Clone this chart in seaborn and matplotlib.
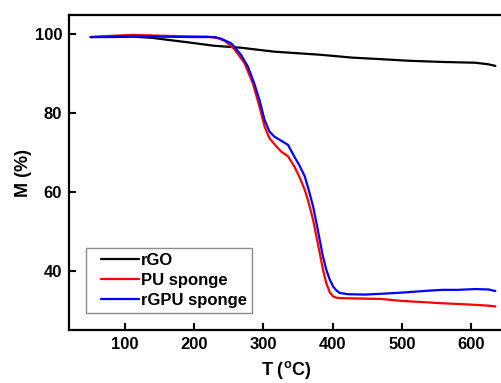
import numpy as np
import matplotlib
matplotlib.use("Agg")
import matplotlib.pyplot as plt
from matplotlib.lines import Line2D
from matplotlib.legend_handler import HandlerLine2D
import seaborn as sns

# TGA curves
rgo_T = [51, 80, 113, 140, 162, 190, 229, 268, 287, 316, 350, 384, 428, 470, 510, 558, 606, 625, 635]
rgo_M = [99.2, 99.2, 99.3, 99.0, 98.5, 97.9, 97.0, 96.5, 96.1, 95.5, 95.1, 94.7, 94.0, 93.6, 93.2, 92.9, 92.7, 92.3, 91.9]

pu_T = [51, 80, 113, 140, 180, 220, 235, 245, 258, 273, 285, 294.6, 302, 309, 319, 326, 335.8, 345, 352,
        360, 366, 372, 377, 381.6, 386, 391, 396, 401, 406, 413, 440, 470, 500, 530, 558, 585, 606, 625, 635]
pu_M = [99.2, 99.5, 99.75, 99.6, 99.4, 99.3, 98.9, 98.2, 96.2, 92.6, 87.5, 81.6, 76.5, 73.6, 71.5, 70.2, 69.0, 66.4, 63.9,
        60.5, 57.0, 52.9, 48.5, 44.5, 40.5, 36.9, 34.6, 33.5, 33.2, 33.1, 33.0, 32.9, 32.4, 32.1, 31.8, 31.6, 31.4, 31.2, 31.0]

rgpu_T = [51, 80, 113, 150, 200, 230, 239, 254, 268, 278, 287, 294.6, 302, 309, 316, 323.6, 335.8, 345, 352,
          360, 366, 372, 377, 381.6, 386, 391, 396, 401, 406, 410.6, 422.7, 446, 470, 500, 539, 558, 580, 606, 625, 635]
rgpu_M = [99.2, 99.3, 99.5, 99.3, 99.2, 99.2, 98.8, 97.6, 94.7, 91.7, 87.5, 83.3, 78.2, 75.3, 74.0, 73.2, 71.9, 68.9, 66.8,
          63.9, 60.3, 56.3, 52.0, 47.8, 43.8, 40.3, 37.8, 36.0, 35.0, 34.4, 34.1, 34.0, 34.2, 34.5, 35.0, 35.2, 35.2, 35.4, 35.3, 34.9]

series = [("rGO", rgo_T, rgo_M, "black"),
          ("PU sponge", pu_T, pu_M, "#ff0000"),
          ("rGPU sponge", rgpu_T, rgpu_M, "#0000ff")]

x_ticks = [100, 200, 300, 400, 500, 600]
y_ticks = [40, 60, 80, 100]

sns.set_theme(style="ticks")
plt.rcParams['font.family'] = ['Liberation Sans', 'DejaVu Sans']
plt.rcParams['font.weight'] = 'bold'
plt.rcParams['mathtext.fontset'] = 'custom'
plt.rcParams['mathtext.rm'] = 'Liberation Sans:bold'
plt.rcParams['mathtext.bf'] = 'Liberation Sans:bold'
for key in ['text.color', 'axes.labelcolor', 'xtick.color', 'ytick.color', 'axes.edgecolor']:
    plt.rcParams[key] = 'black'

fig = plt.figure(figsize=(5.01, 3.83), dpi=100)
ax = fig.add_axes([0.138, 0.138, 0.866, 0.823])

for name, T, M, col in series:
    sns.lineplot(x=T, y=M, ax=ax, color=col, linewidth=1.6, label=name, sort=False)

ax.set_xlim(20, 646)
ax.set_ylim(25, 104.8)
ax.set_xticks(x_ticks)
ax.set_yticks(y_ticks)
ax.tick_params(direction="in", length=5, width=1.5, labelsize=12, pad=5,
               top=False, right=False)
for lab in ax.get_xticklabels() + ax.get_yticklabels():
    lab.set_fontweight("bold")
for s in ax.spines.values():
    s.set_linewidth(1.6)

ax.set_xlabel(r"T ($\mathregular{^o}$C)", fontsize=13, fontweight="bold", labelpad=5)
ax.set_ylabel("M (%)", fontsize=13, fontweight="bold", labelpad=2)

# shift the legend lines right a bit, like the original box
leg = ax.legend(loc="lower left", bbox_to_anchor=(0.039, 0.054), borderaxespad=0,
                fancybox=False, frameon=True, fontsize=12, handlelength=2.9,
                handletextpad=0.1, labelspacing=0.3, borderpad=0.3,
                handler_map={Line2D: HandlerLine2D(xpad=0.6)})
leg.get_frame().set_edgecolor("#707070")
leg.get_frame().set_linewidth(1.0)
for t in leg.get_texts():
    t.set_fontweight("bold")

fig.savefig("out.png", dpi=100)
